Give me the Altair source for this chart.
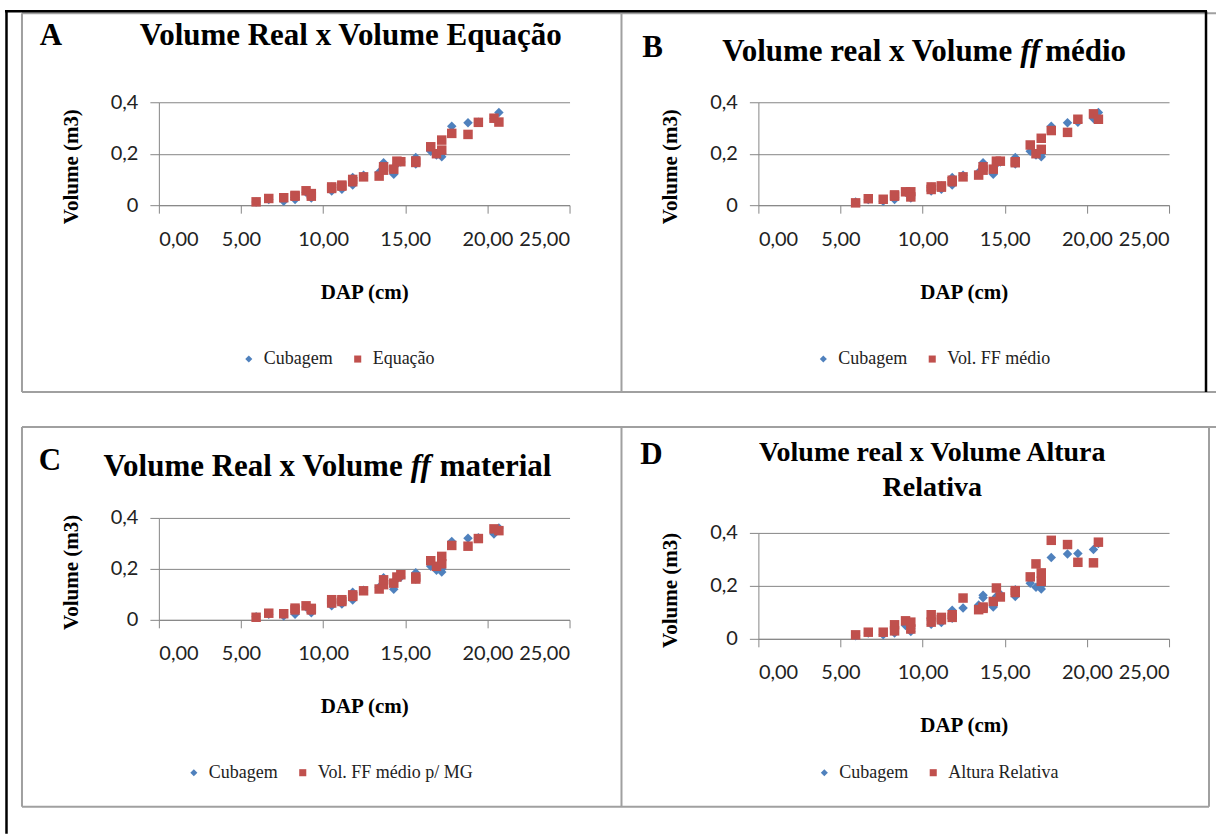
import altair as alt
import pandas as pd

# ---- data ----
dap = [5.92, 6.69, 7.60, 8.29, 8.29, 8.96, 9.28, 9.28, 10.52, 10.52, 11.14, 11.14,
       11.80, 11.80, 12.46, 13.41, 13.68, 13.68, 14.30, 14.49, 14.73, 15.64, 15.64,
       16.55, 16.90, 17.22, 17.22, 17.83, 18.82, 19.45, 20.40, 20.70]
cubagem = [0.012, 0.022, 0.015, 0.022, 0.030, 0.050, 0.028, 0.040, 0.055, 0.070, 0.062, 0.075,
           0.078, 0.108, 0.116, 0.128, 0.165, 0.155, 0.120, 0.160, 0.168, 0.185, 0.160,
           0.210, 0.195, 0.188, 0.200, 0.307, 0.320, 0.322, 0.337, 0.360]
equacao = [0.013, 0.026, 0.029, 0.035, 0.038, 0.056, 0.045, 0.035, 0.071, 0.065, 0.074, 0.078,
           0.091, 0.100, 0.110, 0.113, 0.136, 0.149, 0.140, 0.171, 0.169, 0.166, 0.172,
           0.227, 0.200, 0.253, 0.214, 0.279, 0.275, 0.322, 0.338, 0.323]
ff_medio = [0.009, 0.025, 0.023, 0.035, 0.040, 0.052, 0.052, 0.032, 0.071, 0.061, 0.075, 0.070,
            0.091, 0.097, 0.110, 0.117, 0.136, 0.149, 0.140, 0.171, 0.171, 0.169, 0.165,
            0.234, 0.200, 0.260, 0.217, 0.290, 0.283, 0.334, 0.355, 0.334]
ff_material = [0.010, 0.026, 0.024, 0.039, 0.046, 0.055, 0.045, 0.039, 0.066, 0.079, 0.079, 0.072,
               0.092, 0.098, 0.114, 0.121, 0.138, 0.157, 0.144, 0.168, 0.177, 0.168, 0.160,
               0.232, 0.210, 0.249, 0.220, 0.292, 0.289, 0.319, 0.357, 0.350]
altura_rel = [0.015, 0.025, 0.025, 0.053, 0.030, 0.068, 0.063, 0.037, 0.091, 0.063, 0.081, 0.072,
              0.091, 0.081, 0.154, 0.110, 0.120, 0.115, 0.141, 0.192, 0.158, 0.182, 0.175,
              0.234, 0.283, 0.249, 0.217, 0.372, 0.356, 0.289, 0.287, 0.365]
x_ticks = [0, 5, 10, 15, 20, 25]
y_ticks = [0, 0.2, 0.4]

BLUE = "#4F81BD"
RED = "#C0504D"
SERIF = "Liberation Serif"
SANS = "Lato"
GRAY = "#868686"


def text_layer(txt, x, y, size=31, align="center", italic=False, weight="bold"):
    return alt.Chart().mark_text(
        text=txt, font=SERIF, fontSize=size, fontWeight=weight,
        fontStyle="italic" if italic else "normal",
        align=align, baseline="alphabetic", color="black"
    ).encode(x=alt.value(x), y=alt.value(y))


def rule_layer(x, x2, y, y2, color, width):
    return alt.Chart().mark_rule(color=color, strokeWidth=width).encode(
        x=alt.value(x), x2=alt.value(x2), y=alt.value(y), y2=alt.value(y2))


def panel(est, est_name, h, y_range, title_y, legend_x, legend_y, texts, extra=None):
    df = pd.DataFrame({
        "dap": dap + dap,
        "vol": cubagem + est,
        "serie": ["Cubagem"] * len(dap) + [est_name] * len(dap),
    })
    leg = alt.Legend(orient="none", legendX=legend_x, legendY=legend_y, direction="horizontal",
                     title=None, labelFont=SERIF, labelFontSize=18, labelColor="#222",
                     symbolSize=50, symbolStrokeWidth=0, columnPadding=16, labelOffset=6,
                     padding=0)
    pts = alt.Chart(df).mark_point(filled=True, size=90, opacity=1).encode(
        x=alt.X("dap:Q", scale=alt.Scale(domain=[0, 25], nice=False),
                axis=alt.Axis(values=x_ticks, title="DAP (cm)", grid=False,
                              labelExpr="replace(format(datum.value, '.2f'), '.', ',')",
                              tickSize=8, labelPadding=16, titlePadding=32)),
        y=alt.Y("vol:Q", scale=alt.Scale(domain=[0, 0.4], nice=False, range=y_range),
                axis=alt.Axis(values=y_ticks, title="Volume (m3)", grid=True,
                              labelExpr="replace(format(datum.value, '~g'), '.', ',')",
                              tickSize=9, labelPadding=12, titlePadding=29, titleY=title_y)),
        color=alt.Color("serie:N", scale=alt.Scale(domain=["Cubagem", est_name], range=[BLUE, RED]),
                        legend=leg),
        shape=alt.Shape("serie:N", scale=alt.Scale(domain=["Cubagem", est_name], range=["diamond", "square"]),
                        legend=leg),
    )
    layers = []
    if extra:
        layers += extra
    layers.append(pts)
    layers += [text_layer(**t) for t in texts]
    return alt.layer(*layers).properties(width=411, height=h)


# frame (drawn inside panel A, pixel offsets relative to its plot area origin)
frame = [
    alt.Chart().mark_rect(fill="white", opacity=0).encode(
        x=alt.value(-159), x2=alt.value(1058), y=alt.value(-102), y2=alt.value(732)),
    rule_layer(-137, 1058, -89, -89, "#a0a0a0", 2),
    rule_layer(-137, -137, -89, 290, "#a0a0a0", 2),
    rule_layer(463, 463, -89, 290, "#a0a0a0", 2),
    rule_layer(-137, 1058, 290, 290, "#a0a0a0", 2),
    rule_layer(-137, 1058, 325, 325, "#a0a0a0", 2),
    rule_layer(-137, -137, 325, 705, "#a0a0a0", 2),
    rule_layer(463, 463, 325, 705, "#a0a0a0", 2),
    rule_layer(1051, 1051, 325, 705, "#a0a0a0", 2),
    rule_layer(-137, 1051, 705, 705, "#a0a0a0", 2),
    rule_layer(-152.5, -152.5, -92, 732, "black", 2.5),
    rule_layer(-154, 1049, -91, -91, "black", 2.5),
    rule_layer(1048, 1048, -91, 290, "black", 2.5),
]

A = panel(equacao, "Equação", 103, [103, 0], 64, 81, 248, [
    dict(txt="A", x=-108, y=-57),
    dict(txt="Volume Real x Volume Equação", x=192, y=-57),
], extra=frame)

B = panel(ff_medio, "Vol. FF médio", 103, [103, 0], 64, 56, 248, [
    dict(txt="B", x=-106, y=-45),
    dict(txt="Volume real x Volume", x=254, y=-41, align="right"),
    dict(txt="ff", x=262, y=-41, align="left", italic=True),
    dict(txt="médio", x=287, y=-41, align="left"),
])

C = panel(ff_material, "Vol. FF médio p/ MG", 102, [102, 0], 54, 26, 246, [
    dict(txt="C", x=-109, y=-48),
    dict(txt="Volume Real x Volume", x=244, y=-42, align="right"),
    dict(txt="ff", x=252, y=-42, align="left", italic=True),
    dict(txt="material", x=281, y=-42, align="left"),
])

# D's plot starts 15px lower than C's: same row top, y range shifted
D = panel(altura_rel, "Altura Relativa", 121, [121, 15], 72, 57, 246, [
    dict(txt="D", x=-107, y=-54),
    dict(txt="Volume real x Volume Altura", x=174, y=-57, size=28),
    dict(txt="Relativa", x=174, y=-22, size=28),
])

chart = alt.concat(A, B, C, D, columns=2, spacing={"row": 313, "column": 189},
                   bounds="flush").resolve_scale(
    color="independent", shape="independent"
).properties(
    padding=0, background="white"
).configure_view(stroke=None).configure_axis(
    domainColor=GRAY, tickColor=GRAY, gridColor=GRAY, domainWidth=1, tickWidth=1, gridWidth=1,
    labelFont=SANS, labelFontSize=20, labelColor="#222",
    titleFont=SERIF, titleFontSize=21, titleFontWeight="bold", titleColor="black",
)

chart.save("out.html", embed_options={"renderer": "svg", "actions": False})
